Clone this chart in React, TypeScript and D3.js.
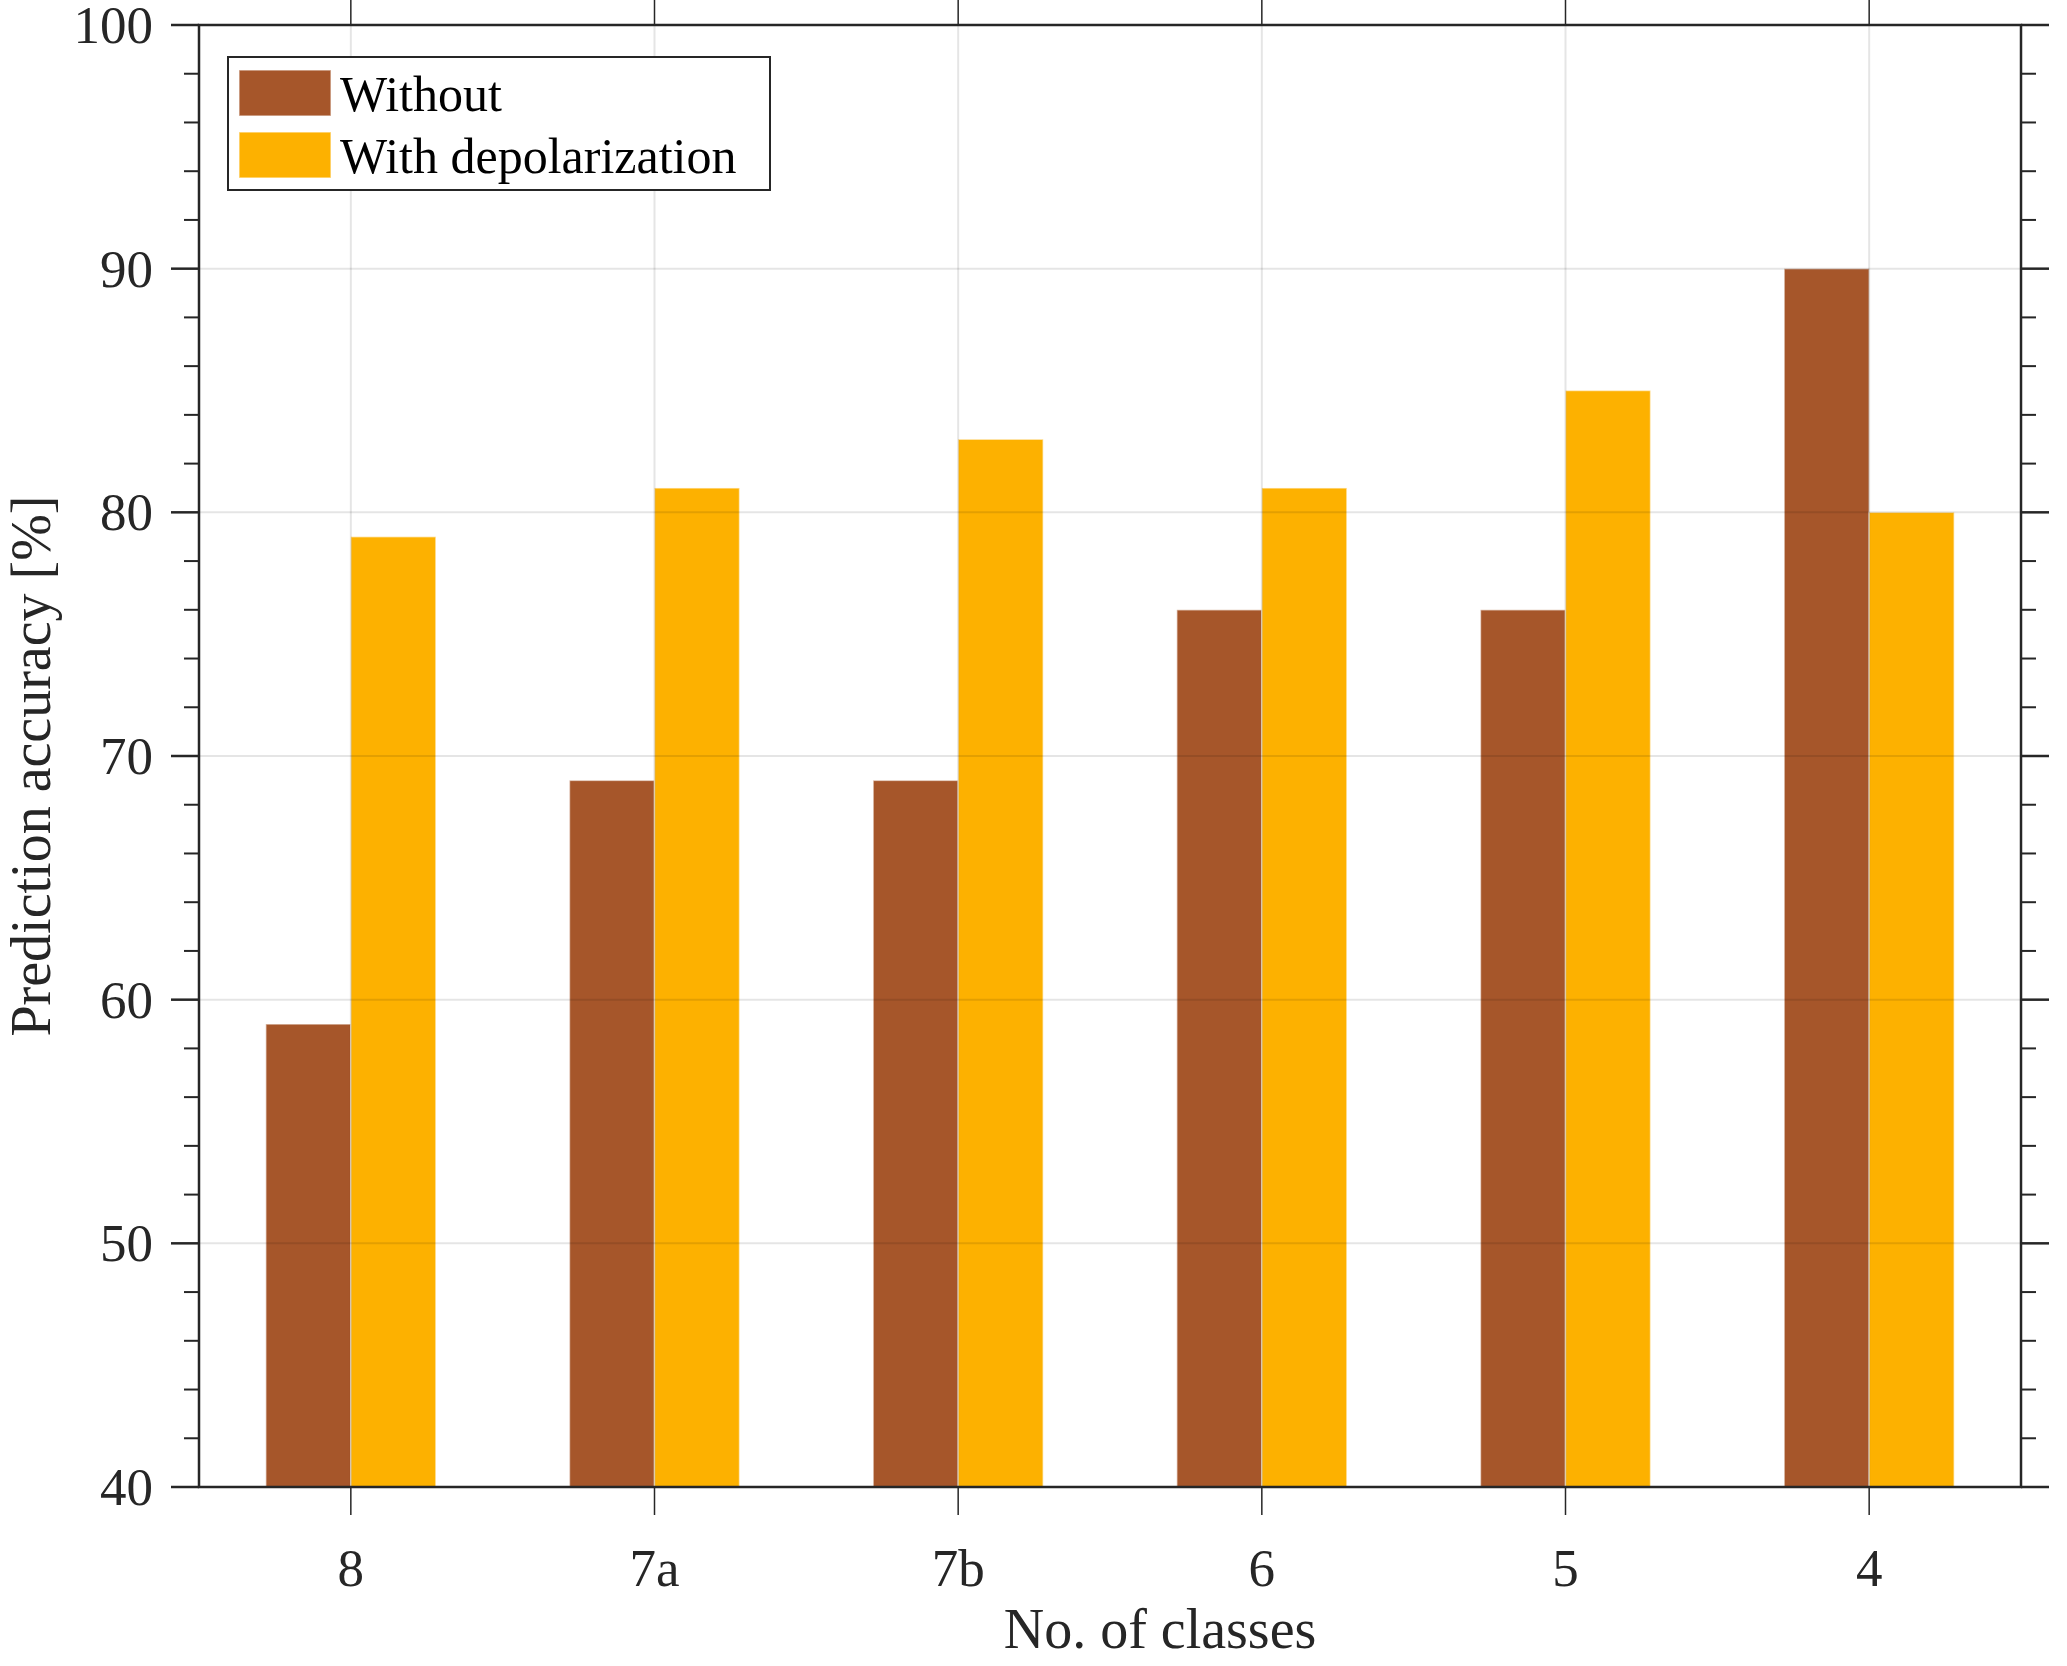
import React, { useEffect, useRef } from 'react';
import * as d3 from 'd3';

/* ── Data ─────────────────────────────────────────────── */
const categories = ['8', '7a', '7b', '6', '5', '4'];
const seriesNames = ['Without', 'With depolarization'];
const withoutValues = [59, 69, 69, 76, 76, 90];
const withValues = [79, 81, 83, 81, 85, 80];
const yTicks = [40, 50, 60, 70, 80, 90, 100];

const colors = ['#a6562a', '#fdb100'];

const W = 2067;
const H = 1666;
const margin = { top: 25, right: 46, bottom: 179, left: 199 };
const FONT = '"Liberation Serif", "Times New Roman", serif';
const AX = '#262626';

export default function App() {
  const ref = useRef<SVGSVGElement | null>(null);

  useEffect(() => {
    document.body.style.margin = '0';
    if (!ref.current) return;
    const svg = d3.select(ref.current);
    svg.selectAll('*').remove();

    const x0 = margin.left;
    const x1 = W - margin.right;
    const y0 = margin.top;
    const y1 = H - margin.bottom;

    const x = d3.scaleBand<string>().domain(categories).range([x0, x1]).padding(0);
    const groupW = x.bandwidth() * 0.56;
    const xs = d3.scaleBand<string>().domain(seriesNames).range([-groupW / 2, groupW / 2]).padding(0);
    const y = d3.scaleLinear().domain([40, 100]).range([y1, y0]);

    const series = [withoutValues, withValues];

    // bars
    const g = svg.append('g');
    series.forEach((vals, si) => {
      g.selectAll(`rect.s${si}`)
        .data(vals)
        .enter()
        .append('rect')
        .attr('x', (_, i) => x(categories[i])! + x.bandwidth() / 2 + xs(seriesNames[si])!)
        .attr('y', d => y(d))
        .attr('width', xs.bandwidth())
        .attr('height', d => y1 - y(d))
        .attr('fill', colors[si])
        .attr('stroke', 'rgba(255,255,255,0.55)')
        .attr('stroke-width', 1.5);
    });

    // grid (on top, faint)
    const grid = svg.append('g').attr('stroke', '#000').attr('stroke-opacity', 0.1).attr('stroke-width', 2);
    yTicks.slice(1, -1).forEach(t => {
      grid.append('line').attr('x1', x0).attr('x2', x1).attr('y1', y(t)).attr('y2', y(t));
    });
    categories.forEach(c => {
      const cx = x(c)! + x.bandwidth() / 2;
      grid.append('line').attr('x1', cx).attr('x2', cx).attr('y1', y0).attr('y2', y1);
    });

    // axes box
    const ax = svg.append('g').attr('stroke', AX).attr('stroke-width', 2.5).attr('fill', 'none');
    ax.append('rect').attr('x', x0).attr('y', y0).attr('width', x1 - x0).attr('height', y1 - y0);

    const major = 28;
    const minor = 15;
    const minorTicks = d3.range(40, 101, 2).filter(v => v % 10 !== 0);
    yTicks.forEach(t => {
      ax.append('line').attr('x1', x0 - major).attr('x2', x0).attr('y1', y(t)).attr('y2', y(t));
      ax.append('line').attr('x1', x1).attr('x2', x1 + major).attr('y1', y(t)).attr('y2', y(t));
    });
    minorTicks.forEach(t => {
      ax.append('line').attr('x1', x0 - minor).attr('x2', x0).attr('y1', y(t)).attr('y2', y(t)).attr('stroke-width', 2);
      ax.append('line').attr('x1', x1).attr('x2', x1 + minor).attr('y1', y(t)).attr('y2', y(t)).attr('stroke-width', 2);
    });
    categories.forEach(c => {
      const cx = x(c)! + x.bandwidth() / 2;
      ax.append('line').attr('x1', cx).attr('x2', cx).attr('y1', y1).attr('y2', y1 + major).attr('stroke-width', 1.5);
      ax.append('line').attr('x1', cx).attr('x2', cx).attr('y1', y0 - major).attr('y2', y0).attr('stroke-width', 1.5);
    });

    // tick labels
    const txt = svg.append('g').attr('font-family', FONT).attr('fill', AX);
    yTicks.forEach(t => {
      txt.append('text')
        .attr('x', x0 - 46)
        .attr('y', y(t) + 18)
        .attr('text-anchor', 'end')
        .attr('font-size', 53)
        .text(t);
    });
    categories.forEach(c => {
      txt.append('text')
        .attr('x', x(c)! + x.bandwidth() / 2)
        .attr('y', 1586)
        .attr('text-anchor', 'middle')
        .attr('font-size', 53)
        .text(c);
    });

    // axis labels
    txt.append('text')
      .attr('x', 1160)
      .attr('y', 1648)
      .attr('text-anchor', 'middle')
      .attr('font-size', 56)
      .text('No. of classes');
    txt.append('text')
      .attr('transform', `translate(50,766) rotate(-90)`)
      .attr('text-anchor', 'middle')
      .attr('font-size', 56)
      .text('Prediction accuracy [%]');

    // legend
    const lg = svg.append('g');
    lg.append('rect')
      .attr('x', 228).attr('y', 57).attr('width', 542).attr('height', 133)
      .attr('fill', '#fff').attr('stroke', AX).attr('stroke-width', 2);
    seriesNames.forEach((name, i) => {
      const top = 70 + i * 62;
      lg.append('rect')
        .attr('x', 239).attr('y', top).attr('width', 92).attr('height', 46)
        .attr('fill', colors[i])
        .attr('stroke', 'rgba(255,255,255,0.55)').attr('stroke-width', 1.5);
      lg.append('text')
        .attr('x', 340).attr('y', top + 23)
        .attr('dy', '0.35em')
        .attr('font-family', FONT).attr('font-size', 50).attr('fill', '#000')
        .text(name);
    });
  }, []);

  return <svg ref={ref} width={W} height={H} style={{ display: 'block', background: '#fff' }} />;
}
